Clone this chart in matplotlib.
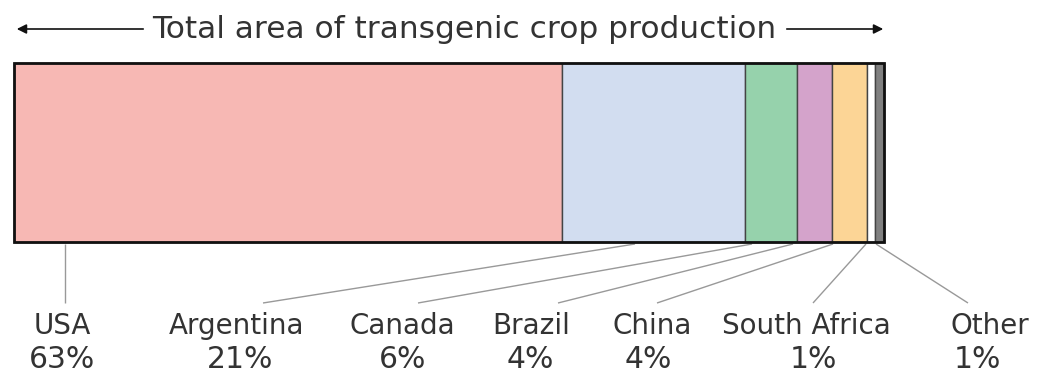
import matplotlib
matplotlib.use("Agg")
import matplotlib.pyplot as plt
from matplotlib.patches import Rectangle

countries = ["USA", "Argentina", "Canada", "Brazil", "China", "South Africa", "Other"]
shares = [63, 21, 6, 4, 4, 1, 1]
pct_labels = ["63%", "21%", "6%", "4%", "4%", "1%", "1%"]
colors = ["#f7b8b4", "#d2ddf0", "#96d2ac", "#d4a3cb", "#fcd596", "#ffffff", "#808080"]
title = "Total area of transgenic crop production"

W, H = 1039, 376
fig = plt.figure(figsize=(W / 100, H / 100), dpi=100)
ax = fig.add_axes([0, 0, 1, 1])
ax.axis("off")

# pixel mapping: x=0 -> px 14, x=100 -> px 884
scale = 8.70
ax.set_xlim(-14 / scale, (W - 14) / scale)
ax.set_ylim(H, 0)

bar_top, bar_bot = 63, 242
left = 0
for s, c in zip(shares, colors):
    ax.barh((bar_top + bar_bot) / 2, s, left=left, height=bar_bot - bar_top,
            color=c, edgecolor="#444444", linewidth=1.0)
    left += s
ax.add_patch(Rectangle((0, bar_top), sum(shares), bar_bot - bar_top, fill=False,
                       edgecolor="#111111", linewidth=2.0, zorder=5))

def px(p):
    return (p - 14) / scale

# title with arrows
ax.text(px(464), 29, title, ha="center", va="center", fontsize=22.5,
        color="#333333", family="DejaVu Sans")
arrow_kw = dict(arrowstyle="-|>", color="#111111", lw=1.2, mutation_scale=14)
ax.annotate("", xy=(px(14), 29), xytext=(px(146), 29), arrowprops=arrow_kw)
ax.annotate("", xy=(px(886), 29), xytext=(px(784), 29), arrowprops=arrow_kw)

# leader lines: start on bar bottom, end near label
line_start = [65, 635, 752, 793, 833, 866, 876]
line_end = [65, 263, 418, 558, 657, 813, 968]
for a, b in zip(line_start, line_end):
    ax.plot([px(a), px(b)], [bar_bot + 2, 303], color="#999999", lw=1.0,
            solid_capstyle="butt")

name_x = [62, 237, 402, 531, 652, 806, 990]
pct_x = [62, 240, 403, 530, 648, 813, 977]
for n, p, nx, pxx in zip(countries, pct_labels, name_x, pct_x):
    ax.text(px(nx), 326, n, ha="center", va="center", fontsize=20,
            color="#333333")
    ax.text(px(pxx), 359, p, ha="center", va="center", fontsize=21.5,
            color="#333333")

fig.savefig("out.png", dpi=100, facecolor="white")
